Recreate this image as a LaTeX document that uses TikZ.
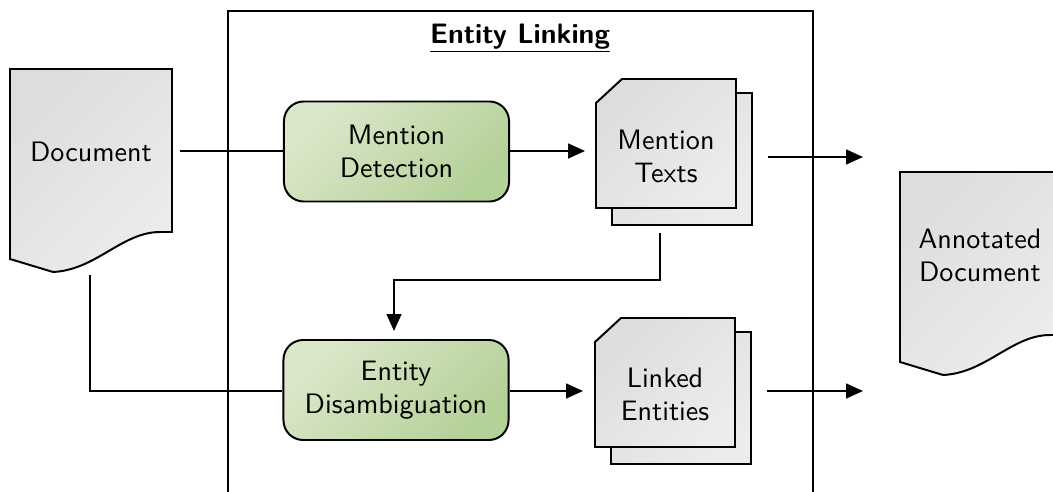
\documentclass[tikz,border=0pt]{standalone}
\usepackage{fontspec}
\setsansfont{lmsans10-regular.otf}[BoldFont=lmsans10-bold.otf]
\usetikzlibrary{arrows.meta}

\definecolor{procA}{RGB}{219,231,202}
\definecolor{procB}{RGB}{180,209,152}
\definecolor{paperA}{RGB}{221,221,221}
\definecolor{paperB}{RGB}{236,236,236}

\tikzset{
  lbl/.style={font=\sffamily\fontsize{20}{23.5}\selectfont, align=center, inner sep=0pt},
  paper/.style={draw, line width=1.4pt, line join=miter, top color=paperA, bottom color=paperB, shading angle=45},
  proc/.style={draw, line width=1.4pt, rounded corners=14pt, top color=procA, bottom color=procB,
    shading angle=45, minimum width=5.625cm, minimum height=2.5cm, inner sep=0pt,
    font=\sffamily\fontsize{20}{23.5}\selectfont, align=center},
  wire/.style={line width=1.4pt},
  arr/.style={line width=1.4pt, -{Triangle[length=12pt,width=10.5pt]}},
  pics/docpaper/.style={code={
    \path[paper] (0,0) -- (162,0) -- (162,163) -- (150,163)
      .. controls (112,163) and (86,201) .. (43,203) -- (0,190) -- cycle;
  }},
  pics/stackpaper/.style={code={
    \path[paper] (16,14) rectangle (156,146);
    \path[paper] (0,24) -- (26,0) -- (140,0) -- (140,129) -- (0,129) -- cycle;
  }}
}

\begin{document}
\begin{tikzpicture}[x=0.025cm,y=-0.025cm]
  \clip (0,0) rectangle (1053,492);

  % enclosing process frame
  \draw[wire] (228,11) rectangle (813,520);
  \node[lbl, font=\sffamily\bfseries\fontsize{20}{24}\selectfont] (title) at (520,38) {\underline{Entity Linking}};

  % input and output documents
  \pic at (10,69) {docpaper};
  \node[lbl] (doc) at (91,152) {Document};
  \pic at (900,172) {docpaper};
  \node[lbl] (ann) at (980,255) {Annotated\\Document};

  % processing steps
  \node[proc] (md) at (396.5,151.5) {Mention\\Detection};
  \node[proc] (ed) at (396,390) {Entity\\Disambiguation};

  % intermediate results
  \pic at (596,79) {stackpaper};
  \node[lbl] (mt) at (666,156) {Mention\\Texts};
  \pic at (595,318) {stackpaper};
  \node[lbl] (le) at (665,394) {Linked\\Entities};

  % connector end points
  \coordinate (docR) at (180,151);
  \coordinate (docB) at (90,275);
  \coordinate (mtIn) at (585,151);
  \coordinate (mtOut) at (768,157);
  \coordinate (mtEnd) at (863,157);
  \coordinate (mtDown) at (660,233);
  \coordinate (edTop) at (394,331);
  \coordinate (leIn) at (583,391);
  \coordinate (leOut) at (767,391);
  \coordinate (leEnd) at (863,391);

  % connectors
  \draw[wire] (docR) -- (docR -| md.west);
  \draw[arr] (md.east |- mtIn) -- (mtIn);
  \draw[arr] (mtOut) -- (mtEnd);
  \draw[arr] (mtDown) |- (394,280) -- (edTop);
  \draw[wire] (docB) |- (ed.west |- leIn);
  \draw[arr] (ed.east |- leIn) -- (leIn);
  \draw[arr] (leOut) -- (leEnd);
\end{tikzpicture}
\end{document}
